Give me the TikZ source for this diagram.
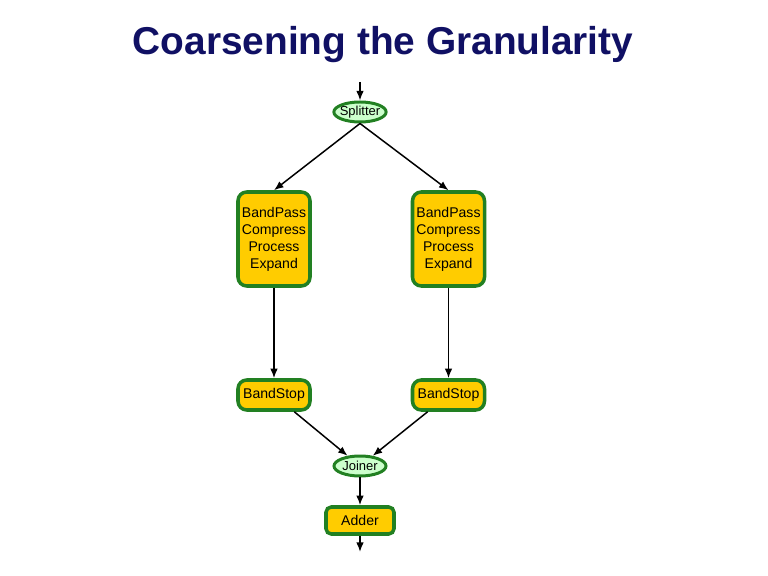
\documentclass[tikz,border=0pt]{standalone}
\usepackage{fontspec}
\setmainfont{Liberation Sans}
\usepackage{xcolor}
\definecolor{slnavy}{RGB}{16,16,100}
\definecolor{slgreen}{RGB}{34,128,34}
\definecolor{slmint}{RGB}{204,255,204}
\definecolor{slgold}{RGB}{255,204,0}
\usepackage{tikz}
\usetikzlibrary{arrows.meta, positioning, shapes.geometric}

\tikzset{
  filterbox/.style={draw=slgreen, line width=2pt, fill=slgold, rounded corners=5pt,
    font=\fontsize{8}{9.7}\selectfont, align=center, inner sep=0pt,
    minimum width=1.44cm},
  sjnode/.style={ellipse, draw=slgreen, line width=1.7pt, fill=slmint,
    font=\fontsize{7.4}{9}\selectfont, inner xsep=-1pt, inner ysep=0pt,
    minimum width=1.04cm, minimum height=0.4cm},
  flow/.style={-{Latex[length=1.9mm, width=1.5mm]}, black, line width=0.85pt}
}

\begin{document}
\begin{tikzpicture}
\useasboundingbox (0,0) rectangle (15.36,11.52);

% === Title ===
\node[font=\fontsize{22.1}{26}\selectfont\bfseries, slnavy] (title) at (7.66,10.62)
  {Coarsening the Granularity};

% === Split ===
\coordinate (in) at (7.2,9.88);
\node[sjnode] (split) at (7.2,9.28) {Splitter};

% Pipelines
\node[filterbox, minimum height=1.88cm] (bpl) at (5.48,6.74) {BandPass\\Compress\\Process\\Expand};
\node[filterbox, minimum height=1.88cm] (bpr) at (8.97,6.74) {BandPass\\Compress\\Process\\Expand};
\node[filterbox, minimum height=0.6cm] (bsl) at (5.48,3.62) {BandStop};
\node[filterbox, minimum height=0.6cm] (bsr) at (8.97,3.62) {BandStop};

% === Join ===
\node[sjnode] (join) at (7.2,2.2) {Joiner};
\node[filterbox, minimum width=1.36cm, minimum height=0.54cm, rounded corners=3pt] (add) at (7.2,1.11) {Adder};
\coordinate (out) at (7.2,0.48);

% Connectors
\draw[flow] (in) -- (split);
\draw[flow] (split.south) -- (bpl.north);
\draw[flow] (split.south) -- (bpr.north);
\draw[flow] (bpl) -- (bsl);
\draw[flow] (bpr) -- (bsr);
\draw[flow] (bsl) -- (join);
\draw[flow] (bsr) -- (join);
\draw[flow] (join) -- (add);
\draw[flow] (add) -- (out);

\end{tikzpicture}
\end{document}
